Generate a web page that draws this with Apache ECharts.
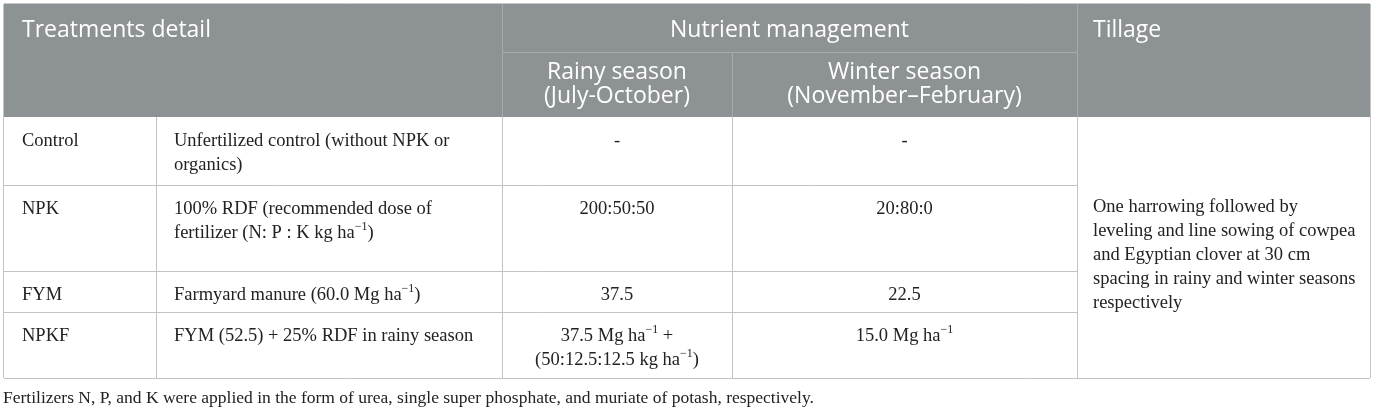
<!DOCTYPE html>
<html>
<head>
<meta charset="utf-8">
<script src="https://cdn.jsdelivr.net/npm/echarts@6/dist/echarts.min.js"></script>
<style>
  html, body { margin: 0; padding: 0; background: #fff; }
  #chart { width: 1375px; height: 412px; }
</style>
</head>
<body>
<div id="chart"></div>
<script>
// table content
const groupHeaders = ["Treatments detail", "Nutrient management", "Tillage"];
const seasonHeaders = ["Rainy season\n(July-October)", "Winter season\n(November–February)"];
const treatments = ["Control", "NPK", "FYM", "NPKF"];
const details = [
  "Unfertilized control (without NPK or\norganics)",
  "100% RDF (recommended dose of\nfertilizer (N: P : K kg ha{sup|−1})",
  "Farmyard manure (60.0 Mg ha{sup|−1})",
  "FYM (52.5) + 25% RDF in rainy season"
];
const rainySeason = ["-", "200:50:50", "37.5", "37.5 Mg ha{sup|−1} +\n(50:12.5:12.5 kg ha{sup|−1})"];
const winterSeason = ["-", "20:80:0", "22.5", "15.0 Mg ha{sup|−1}"];
const tillageText = "One harrowing followed by\nleveling and line sowing of cowpea\nand Egyptian clover at 30 cm\nspacing in rainy and winter seasons\nrespectively";
const footnote = "Fertilizers N, P, and K were applied in the form of urea, single super phosphate, and muriate of potash, respectively.";

// layout (pixels)
const colEdges = [4, 156, 502, 732, 1077, 1370];
const headTop = 4, headSplit = 52, headBottom = 117;
const rowEdges = [117, 185, 271, 312, 378];
const lineH = 24;
const padX = 18;

const headerBg = "#8d9295";
const headerLine = "#a7abad";
const bodyLine = "#c3c3c3";
const serif = "'Liberation Serif', 'DejaVu Serif', serif";
const sans = "'Open Sans', 'Noto Sans', sans-serif";
const bodyRich = {
  sup: { fontSize: 12, fontFamily: serif, lineHeight: 18, verticalAlign: "top", fill: "#222" }
};

const g = [];
const hline = (x1, x2, y, color) => g.push({
  type: "line", silent: true,
  shape: { x1: x1, y1: y + 0.5, x2: x2, y2: y + 0.5 },
  style: { stroke: color, lineWidth: 1 }
});
const vline = (x, y1, y2, color) => g.push({
  type: "line", silent: true,
  shape: { x1: x + 0.5, y1: y1, x2: x + 0.5, y2: y2 },
  style: { stroke: color, lineWidth: 1 }
});
const text = (str, x, y, align, font, color, rich) => g.push({
  type: "text", silent: true,
  style: {
    text: str, x: x, y: y, textAlign: align, textVerticalAlign: "top",
    font: font, fill: color, lineHeight: lineH, rich: rich
  }
});

// header block
const left = colEdges[0], right = colEdges[colEdges.length - 1];
g.push({
  type: "rect", silent: true,
  shape: { x: left, y: headTop, width: right - left, height: headBottom - headTop },
  style: { fill: headerBg }
});
vline(colEdges[2], headTop, headBottom, headerLine);
vline(colEdges[3], headSplit, headBottom, headerLine);
vline(colEdges[4], headTop, headBottom, headerLine);
hline(colEdges[2], colEdges[4], headSplit, headerLine);

const headFont = "23px " + sans;
text(groupHeaders[0], left + padX, headTop + 14, "left", headFont, "#fff");
text(groupHeaders[1], (colEdges[2] + colEdges[4]) / 2, headTop + 14, "center", headFont, "#fff");
text(groupHeaders[2], colEdges[4] + padX - 2, headTop + 14, "left", headFont, "#fff");
seasonHeaders.forEach((s, i) => {
  text(s, (colEdges[2 + i] + colEdges[3 + i]) / 2, headSplit + 8, "center", headFont, "#fff");
});

// body rows
const bodyFont = "18.5px " + serif;
const ink = "#222";
treatments.forEach((t, r) => {
  const top = rowEdges[r] + 12;
  text(t, colEdges[0] + padX, top, "left", bodyFont, ink, bodyRich);
  text(details[r], colEdges[1] + padX, top, "left", bodyFont, ink, bodyRich);
  text(rainySeason[r], (colEdges[2] + colEdges[3]) / 2, top, "center", bodyFont, ink, bodyRich);
  text(winterSeason[r], (colEdges[3] + colEdges[4]) / 2, top, "center", bodyFont, ink, bodyRich);
});
text(tillageText, colEdges[4] + padX - 2, 195, "left", bodyFont, ink, bodyRich);

// body grid lines
const bodyBottom = rowEdges[rowEdges.length - 1];
rowEdges.slice(1, -1).forEach(y => hline(colEdges[0], colEdges[4], y, bodyLine));
colEdges.slice(1, -1).forEach(x => vline(x, headBottom, bodyBottom, bodyLine));
// outer frame
hline(left, right, headTop - 1, "#c8c8c8");
hline(left, right, bodyBottom, bodyLine);
vline(left - 1, headTop, bodyBottom, bodyLine);
vline(right, headTop, bodyBottom, bodyLine);

// footnote
text(footnote, left - 1, bodyBottom + 8, "left", "17.5px " + serif, ink);

const chart = echarts.init(document.getElementById("chart"));
chart.setOption({
  animation: false,
  backgroundColor: "#fff",
  graphic: { elements: g }
});
window.addEventListener("resize", () => chart.resize());
</script>
</body>
</html>
